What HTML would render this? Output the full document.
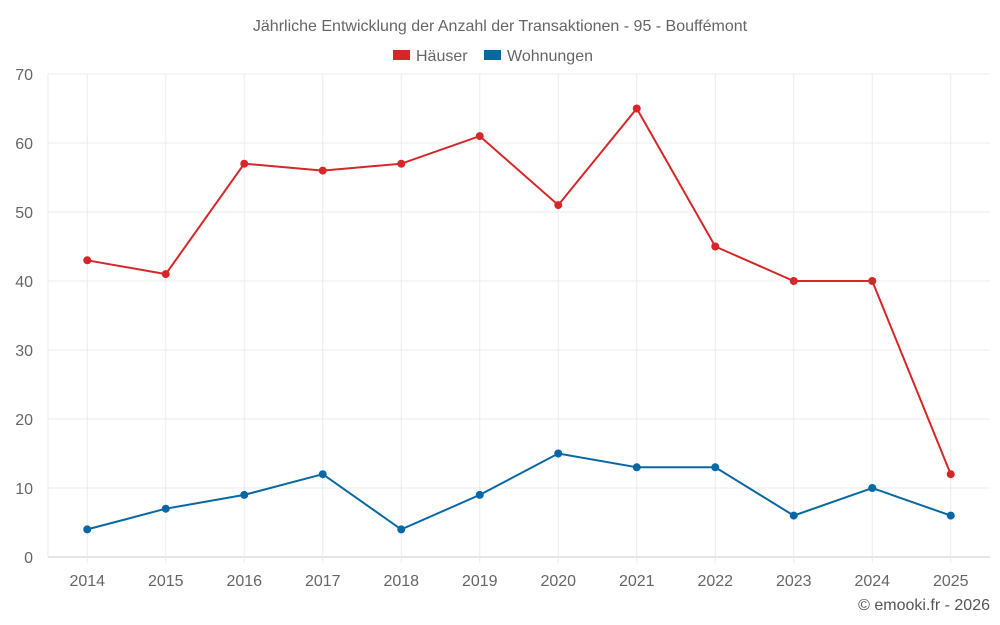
<!DOCTYPE html>
<html><head><meta charset="utf-8"><style>
body{margin:0;background:#fff;font-family:"Liberation Sans",sans-serif;}
svg{display:block}
</style></head><body>
<svg id="chart" width="1000" height="625" xmlns="http://www.w3.org/2000/svg">
<text x="500" y="31" text-anchor="middle" font-size="16" fill="#666">Jährliche Entwicklung der Anzahl der Transaktionen - 95 - Bouffémont</text>
<g><rect x="393" y="50" width="17" height="10" fill="#d62728"/><text x="416" y="61" font-size="16" fill="#666">Häuser</text></g>
<g><rect x="484" y="50" width="17" height="10" fill="#0868a3"/><text x="507" y="61" font-size="16" fill="#666">Wohnungen</text></g>
<g id="grid"></g><g id="axes"></g><g id="series"></g>
<text x="990" y="610" text-anchor="end" font-size="16" fill="#555">© emooki.fr - 2026</text>
</svg>
<script>
const years=["2014","2015","2016","2017","2018","2019","2020","2021","2022","2023","2024","2025"];
const haeuser=[43,41,57,56,57,61,51,65,45,40,40,12];
const wohnungen=[4,7,9,12,4,9,15,13,13,6,10,6];
const yTicks=[0,10,20,30,40,50,60,70];
const L=48,R=990,T=74,B=557,yMax=70;
const step=(R-L)/years.length;
const x=i=>L+step*(i+0.5);
const y=v=>B-(v/yMax)*(B-T);
const NS="http://www.w3.org/2000/svg";
function mk(tag,attrs,parent){const e=document.createElementNS(NS,tag);for(const k in attrs)e.setAttribute(k,attrs[k]);parent.appendChild(e);return e;}
const grid=document.getElementById('grid'),axes=document.getElementById('axes'),ser=document.getElementById('series');
yTicks.forEach(t=>{
 const l=mk('line',{x1:L,x2:R,y1:y(t),y2:y(t),stroke:t===0?'#ccc':'#ebebeb','stroke-width':1},grid);
 
 
 const tx=mk('text',{x:33,y:y(t)+6,'text-anchor':'end','font-size':16,fill:'#666'},axes);
 tx.textContent=t;
 
 
});
const ax=mk('line',{x1:L,x2:L,y1:T,y2:B,stroke:'#ebebeb','stroke-width':1},grid);


years.forEach((yr,i)=>{
 const l=mk('line',{x1:x(i),x2:x(i),y1:T,y2:B+6,stroke:'#ebebeb','stroke-width':1},grid);
 
 
 const tx=mk('text',{x:x(i),y:586,'text-anchor':'middle','font-size':16,fill:'#666'},axes);
 tx.textContent=yr;
 
 
});
function draw(data,color,name){
 const p=mk('polyline',{points:data.map((v,i)=>x(i)+','+y(v)).join(' '),fill:'none',stroke:color,'stroke-width':2},ser);
 
 
 data.forEach((v,i)=>{
  const c=mk('circle',{cx:x(i),cy:y(v),r:4,fill:color},ser);
  
  
 });
}
draw(haeuser,'#d62728','haeuser');
draw(wohnungen,'#0868a3','wohnungen');
</script>
</body></html>
